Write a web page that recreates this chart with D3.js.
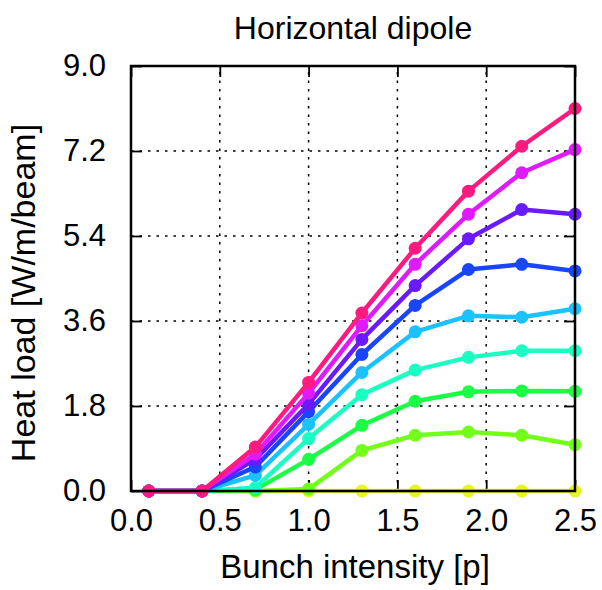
<!DOCTYPE html>
<html><head><meta charset="utf-8">
<script src="https://cdn.jsdelivr.net/npm/d3@7"></script>
<style>body{margin:0;background:#fff;} text{font-family:"Liberation Sans",Arial,sans-serif;fill:#000;}</style>
</head><body>
<svg id="c" width="602" height="590"></svg>
<script>
const intensity = [0.1, 0.4, 0.7, 1.0, 1.3, 1.6, 1.9, 2.2, 2.5];
const xTicks = [0.0, 0.5, 1.0, 1.5, 2.0, 2.5];
const yTicks = [0.0, 1.8, 3.6, 5.4, 7.2, 9.0];
const seriesColors = ["#e8f51f", "#72ff1a", "#1aff45", "#1affc2", "#1ac2ff", "#1a45ff", "#6a1aff", "#e01aff", "#ff1a80"];
const s1 = [0, 0, 0, 0, 0, 0, 0, 0, 0];
const s2 = [0, 0, 0, 0.04, 0.86, 1.18, 1.25, 1.18, 0.98];
const s3 = [0, 0, 0.03, 0.67, 1.39, 1.90, 2.10, 2.12, 2.11];
const s4 = [0, 0, 0.07, 1.11, 2.04, 2.56, 2.83, 2.97, 2.97];
const s5 = [0, 0, 0.33, 1.41, 2.51, 3.37, 3.71, 3.68, 3.86];
const s6 = [0, 0, 0.51, 1.68, 2.89, 3.93, 4.69, 4.80, 4.66];
const s7 = [0, 0, 0.67, 1.84, 3.21, 4.35, 5.34, 5.96, 5.86];
const s8 = [0, 0, 0.78, 2.07, 3.50, 4.80, 5.86, 6.74, 7.23];
const s9 = [0, 0, 0.93, 2.30, 3.77, 5.14, 6.35, 7.30, 8.10];
const allSeries = [s1, s2, s3, s4, s5, s6, s7, s8, s9];

const L = 131, R = 575, T = 66, B = 491;
const svg = d3.select("#c");
const x = d3.scaleLinear().domain([0, 2.5]).range([L, R]);
const y = d3.scaleLinear().domain([0, 9]).range([B, T]);

// grid
const g = svg.append("g");
g.selectAll("line.gx").data(xTicks.slice(1, -1)).enter().append("line")
  .attr("x1", d => x(d)).attr("x2", d => x(d)).attr("y1", B).attr("y2", T)
  .attr("stroke", "#000").attr("stroke-width", 1.5).attr("stroke-dasharray", "2.5,6");
g.selectAll("line.gy").data(yTicks.slice(1, -1)).enter().append("line")
  .attr("y1", d => y(d)).attr("y2", d => y(d)).attr("x1", L).attr("x2", R)
  .attr("stroke", "#000").attr("stroke-width", 1.5).attr("stroke-dasharray", "2.5,6");

// axes with inward ticks
const fmt = d3.format(".1f");
const ax = (axis, tr) => svg.append("g").attr("transform", tr).call(axis)
  .call(s => { s.select(".domain").remove(); s.selectAll("line").attr("stroke-width", 1.8); });
const xb = ax(d3.axisBottom(x).tickValues(xTicks).tickFormat(fmt).tickSizeInner(-11).tickPadding(18), `translate(0,${B})`);
xb.selectAll("text").attr("font-size", 31).attr("font-family", "Liberation Sans, Arial");
const xt = ax(d3.axisTop(x).tickValues(xTicks).tickFormat("").tickSizeInner(-11), `translate(0,${T})`);
const yl = ax(d3.axisLeft(y).tickValues(yTicks).tickFormat(fmt).tickSizeInner(-11).tickPadding(25), `translate(${L},0)`);
yl.selectAll("text").attr("font-size", 31).attr("font-family", "Liberation Sans, Arial");
const yr = ax(d3.axisRight(y).tickValues(yTicks).tickFormat("").tickSizeInner(-11), `translate(${R},0)`);

// series
const line = d3.line().x((d, i) => x(intensity[i])).y(d => y(d));
const plot = svg.append("g");
allSeries.forEach((s, k) => {
  const c = seriesColors[k];
  const sg = plot.append("g");
  sg.append("path").datum(s).attr("d", line).attr("fill", "none")
    .attr("stroke", c).attr("stroke-width", 4.5).attr("stroke-linejoin", "round");
  sg.selectAll("circle").data(s).enter().append("circle")
    .attr("cx", (d, i) => x(intensity[i])).attr("cy", d => y(d)).attr("r", 6.5).attr("fill", c);
});

// frame
svg.append("rect").attr("x", L).attr("y", T).attr("width", R - L).attr("height", B - T)
  .attr("fill", "none").attr("stroke", "#000").attr("stroke-width", 2.5);

// labels
svg.append("text").attr("x", 353).attr("y", 39).attr("text-anchor", "middle").attr("font-size", 32).text("Horizontal dipole");
svg.append("text").attr("x", 355).attr("y", 578).attr("text-anchor", "middle").attr("font-size", 33).text("Bunch intensity [p]");
svg.append("text").attr("transform", "translate(35,293) rotate(-90)").attr("text-anchor", "middle").attr("font-size", 34).text("Heat load [W/m/beam]");
</script>
</body></html>
